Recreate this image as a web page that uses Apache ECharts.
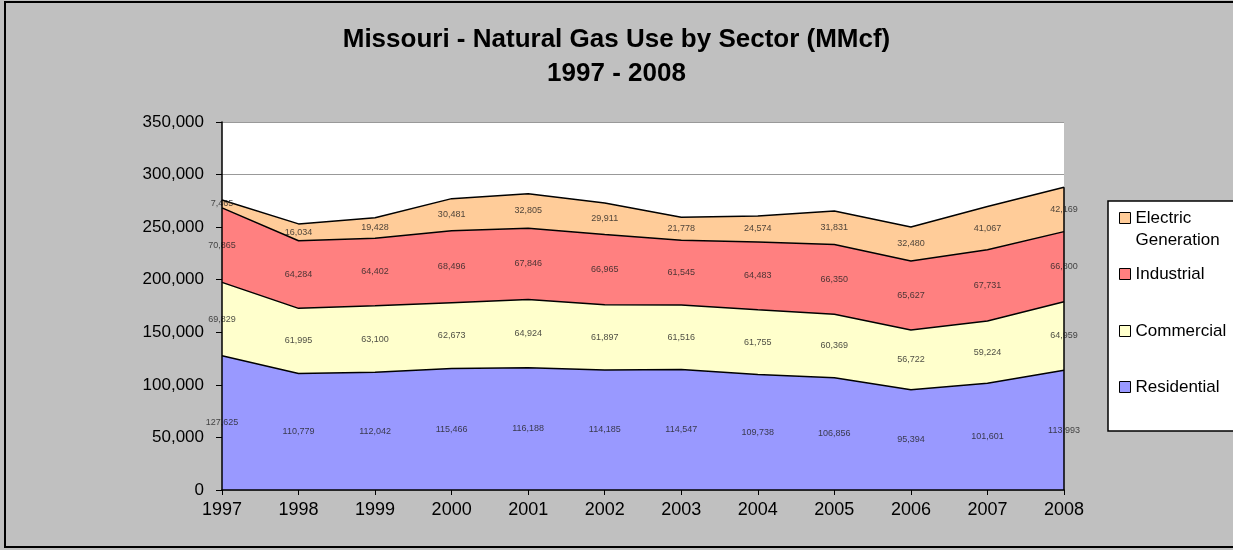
<!DOCTYPE html>
<html>
<head>
<meta charset="utf-8">
<script src="https://cdn.jsdelivr.net/npm/echarts@6/dist/echarts.min.js"></script>
<style>
  html, body { margin: 0; padding: 0; background: #c0c0c0; }
  #main { width: 1233px; height: 550px; }
</style>
</head>
<body>
<div id="main"></div>
<script>
// data (MMcf)
const years = ['1997', '1998', '1999', '2000', '2001', '2002', '2003', '2004', '2005', '2006', '2007', '2008'];
const residential = [127625, 110779, 112042, 115466, 116188, 114185, 114547, 109738, 106856, 95394, 101601, 113993];
const commercial = [69829, 61995, 63100, 62673, 64924, 61897, 61516, 61755, 60369, 56722, 59224, 64959];
const industrial = [70865, 64284, 64402, 68496, 67846, 66965, 61545, 64483, 66350, 65627, 67731, 66800];
const electric = [7465, 16034, 19428, 30481, 32805, 29911, 21778, 24574, 31831, 32480, 41067, 42169];

const FONT = 'Liberation Sans, Arial, sans-serif';

const sectors = [
  { name: 'Residential', data: residential, color: '#9999ff' },
  { name: 'Commercial', data: commercial, color: '#ffffcc' },
  { name: 'Industrial', data: industrial, color: '#ff8080' },
  { name: 'Electric Generation', data: electric, color: '#ffcc99' }
];

function fmt(v) {
  return v.toLocaleString('en-US');
}

// running base of the stack, used to put each label in the middle of its band
let base = years.map(() => 0);
const areaSeries = [];
const labelSeries = [];
sectors.forEach(function (s) {
  areaSeries.push({
    name: s.name,
    type: 'line',
    stack: 'total',
    data: s.data,
    symbol: 'none',
    z: 2,
    lineStyle: { color: '#000', width: 1.5 },
    itemStyle: { color: s.color, borderColor: '#000', borderWidth: 1 },
    areaStyle: { color: s.color, opacity: 1 }
  });
  const mids = s.data.map(function (v, i) { return [i, base[i] + v / 2, v]; });
  labelSeries.push({
    name: s.name + ' label',
    type: 'scatter',
    data: mids,
    symbolSize: 0,
    silent: true,
    z: 5,
    label: {
      show: true,
      position: 'inside',
      formatter: function (p) { return fmt(p.value[2]); },
      fontSize: 9,
      color: '#222',
      fontFamily: FONT
    }
  });
  base = base.map(function (b, i) { return b + s.data[i]; });
});

// right-hand edge of the stacked area
const last = years.length - 1;
areaSeries[areaSeries.length - 1].markLine = {
  symbol: 'none',
  silent: true,
  label: { show: false },
  lineStyle: { color: '#000', width: 1.5, type: 'solid' },
  data: [[{ coord: [last, 0] }, { coord: [last, base[last]] }]]
};

const legendOrder = ['Electric Generation', 'Industrial', 'Commercial', 'Residential'];
const legendTops = [185, 263, 320, 376];
const legends = legendOrder.map(function (name, i) {
  return {
    data: [name],
    orient: 'vertical',
    left: 1119,
    top: legendTops[i],
    padding: 0,
    itemWidth: 11,
    itemHeight: 11,
    icon: 'rect',
    itemStyle: { borderColor: '#000', borderWidth: 1 },
    // blank first line keeps the swatch level with "Electric"
    formatter: function (n) { return n === 'Electric Generation' ? '\nElectric\nGeneration' : n; },
    textStyle: { fontSize: 17, lineHeight: 22, color: '#000', fontFamily: FONT }
  };
});

const chart = echarts.init(document.getElementById('main'));
chart.setOption({
  animation: false,
  backgroundColor: '#c0c0c0',
  title: {
    text: 'Missouri - Natural Gas Use by Sector (MMcf)\n1997 - 2008',
    left: 'center',
    top: 23,
    padding: 0,
    textStyle: { fontSize: 26, fontWeight: 'bold', lineHeight: 34, color: '#000', fontFamily: FONT }
  },
  graphic: [
    {
      type: 'rect',
      shape: { x: 5, y: 2, width: 1240, height: 545 },
      style: { fill: 'none', stroke: '#000', lineWidth: 2 },
      silent: true,
      z: -1
    },
    {
      type: 'rect',
      shape: { x: 1108, y: 201, width: 130, height: 230 },
      style: { fill: '#fff', stroke: '#000', lineWidth: 1.5 },
      silent: true,
      z: -1
    },
    {
      type: 'rect',
      shape: { x: 222, y: 122, width: 842, height: 368 },
      style: { fill: '#fff' },
      silent: true,
      z: -1
    }
  ],
  legend: legends,
  grid: { left: 222, right: 169, top: 122, bottom: 60, containLabel: false },
  xAxis: {
    type: 'category',
    data: years,
    boundaryGap: false,
    axisLine: { lineStyle: { color: '#000', width: 1.5 } },
    axisTick: { show: true, length: 5, lineStyle: { color: '#000' } },
    axisLabel: { color: '#000', fontSize: 18, margin: 11, fontFamily: FONT },
    splitLine: { show: false },
    z: 10
  },
  yAxis: [
    {
      // gridlines sit under the areas
      type: 'value',
      min: 0,
      max: 350000,
      interval: 50000,
      axisLine: { show: false },
      axisTick: { show: false },
      axisLabel: { show: false },
      splitLine: { show: true, lineStyle: { color: '#999', width: 1 } },
      z: 0
    },
    {
      // the visible axis, drawn over the areas
      type: 'value',
      position: 'left',
      min: 0,
      max: 350000,
      interval: 50000,
      axisLine: { show: true, lineStyle: { color: '#000', width: 1.5 } },
      axisTick: { show: true, length: 6, lineStyle: { color: '#000' } },
      axisLabel: { color: '#000', fontSize: 17, margin: 18, fontFamily: FONT, formatter: fmt },
      splitLine: { show: false },
      z: 10
    }
  ],
  series: areaSeries.concat(labelSeries)
});
</script>
</body>
</html>
